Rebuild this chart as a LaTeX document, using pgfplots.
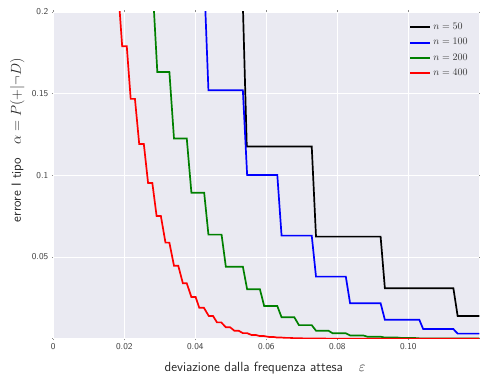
\documentclass[border=0pt]{standalone}
\usepackage{pgfplots}
\pgfplotsset{compat=1.18}
\usetikzlibrary{calc}
\definecolor{bg}{HTML}{EAEAF2}
\definecolor{cblue}{HTML}{0000FF}
\definecolor{cgreen}{HTML}{008000}
\definecolor{cred}{HTML}{FF0000}
\begin{document}
\begin{tikzpicture}
\useasboundingbox (-53.3pt,-36.3pt) rectangle (426.7pt,338.7pt);
\begin{axis}[
  at={(0,0)}, anchor=south west,
  scale only axis, width=426pt, height=326.7pt,
  xmin=0, xmax=0.12, ymin=0, ymax=0.2,
  axis background/.style={fill=bg},
  axis line style={draw=none},
  grid=major, grid style={white, line width=0.9pt},
  xtick={0,0.02,0.04,0.06,0.08,0.10},
  xticklabels={0,0.02,0.04,0.06,0.08,0.10},
  ytick={0,0.05,0.1,0.15,0.2},
  yticklabels={,0.05,0.1,0.15,0.2},
  tick label style={font=\sffamily\fontsize{9}{10}\selectfont, text=black!75},
  tick align=outside, major tick length=1.5pt, tick style={black!45, line width=0.6pt},
  xlabel={deviazione dalla frequenza attesa\hspace{16pt}$\varepsilon$},
  ylabel={errore I tipo\hspace{13pt}$\alpha = P(+|\neg D)$},
  label style={font=\sffamily\fontsize{13.3}{15}\selectfont, text=black!85},
  xlabel style={at={($(rel axis cs:0.497,0)+(0pt,-32.5pt)$)}, anchor=base},
  ylabel style={at={($(rel axis cs:0,0.608)+(-32.5pt,0pt)$)}, anchor=base},
  legend style={at={(rel axis cs:0.985,0.978)}, anchor=north east, draw=none, fill=none,
    font=\fontsize{10}{12}\selectfont, row sep=3.2pt},
  legend cell align=left,
  legend image code/.code={\draw[line width=2pt,#1] (0pt,0pt) -- (20pt,0pt);},
]
\addplot[draw=black, line width=1.7pt, mark=none] coordinates {
(0.0532,0.22) (0.0545,0.1176) (0.0728,0.1176) (0.0740,0.0625) (0.0922,0.0625)
(0.0934,0.0309) (0.1127,0.0309) (0.1139,0.0139) (0.12,0.0139)};
\addplot[draw=cblue, line width=1.7pt, mark=none] coordinates {
(0.0425,0.22) (0.0437,0.1521) (0.0534,0.1521) (0.0546,0.1002) (0.0631,0.1002)
(0.0643,0.0631) (0.0728,0.0631) (0.0740,0.0380) (0.0824,0.0380) (0.0836,0.0217)
(0.0922,0.0217) (0.0934,0.0116) (0.1031,0.0116) (0.1042,0.0059) (0.1127,0.0059)
(0.1139,0.0031) (0.12,0.0031)};
\addplot[draw=cgreen, line width=1.7pt, mark=none] coordinates {
(0.0280,0.215) (0.0293,0.1633) (0.0327,0.1633) (0.0340,0.1225) (0.0376,0.1225)
(0.0389,0.0894) (0.0425,0.0894) (0.0437,0.0637) (0.0474,0.0637) (0.0486,0.0441)
(0.0534,0.0441) (0.0546,0.0303) (0.0582,0.0303) (0.0594,0.0200) (0.0631,0.0200)
(0.0643,0.0131) (0.0679,0.0131) (0.0692,0.0083) (0.0728,0.0083) (0.0740,0.0049)
(0.0775,0.0049) (0.0787,0.0033) (0.0824,0.0033) (0.0836,0.0020) (0.0873,0.0020)
(0.0885,0.0012) (0.0922,0.0012) (0.0934,0.0007) (0.0970,0.0007) (0.0982,0.0004)
(0.1019,0.0004) (0.1031,0.0002) (0.1067,0.0002) (0.1079,0.0001) (0.12,0.0001)};
\addplot[draw=cred, line width=1.7pt, mark=none] coordinates {
(0.0182,0.216) (0.0194,0.179) (0.0207,0.179) (0.0218,0.1468) (0.0230,0.1468)
(0.0242,0.1192) (0.0255,0.1192) (0.0267,0.0953) (0.0279,0.0953) (0.0291,0.0751)
(0.0303,0.0751) (0.0316,0.0588) (0.0327,0.0588) (0.0340,0.0447) (0.0352,0.0447)
(0.0365,0.0339) (0.0376,0.0339) (0.0389,0.0255) (0.0401,0.0255) (0.0411,0.0190)
(0.0424,0.0190) (0.0438,0.0139) (0.0450,0.0139) (0.0461,0.0100) (0.0473,0.0100)
(0.0486,0.0070) (0.0498,0.0070) (0.0510,0.0049) (0.0522,0.0049) (0.0534,0.0034)
(0.0546,0.0034) (0.0558,0.0023) (0.0570,0.0023) (0.0582,0.0016) (0.0594,0.0016)
(0.0607,0.0011) (0.0619,0.0011) (0.0631,0.0007) (0.0643,0.0007) (0.0655,0.0005)
(0.0667,0.0005) (0.0679,0.0003) (0.0692,0.0003) (0.0704,0.0002) (0.0716,0.0002)
(0.0728,0.00013) (0.0740,0.00013) (0.0752,0.00008) (0.0776,0.00005) (0.0800,0.00003)
(0.0850,0.00001) (0.12,0.0)};
\legend{\textcolor{black!80}{$n=50$}, \textcolor{black!80}{$n=100$}, \textcolor{black!80}{$n=200$}, \textcolor{black!80}{$n=400$}}
\end{axis}
\end{tikzpicture}
\end{document}
